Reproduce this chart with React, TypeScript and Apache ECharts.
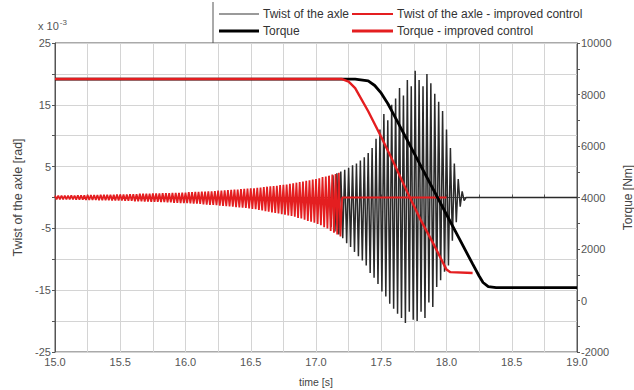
import React, { useEffect, useRef } from 'react';
import * as echarts from 'echarts';

// time axis [s]
const TIME_MIN = 15.0;
const TIME_MAX = 19.0;
// left axis: twist [x 10^-3 rad]
const TWIST_MIN = -25;
const TWIST_MAX = 25;
// right axis: torque [Nm]
const TORQUE_MIN = -2000;
const TORQUE_MAX = 10000;

// Twist of the axle - improved control: oscillation peaks,
// one peak every RED_STEP seconds starting at RED_START (rows of 0.2 s)
const RED_START = 15.0;
const RED_STEP = 0.0125;
const redTwistPeaks = [
  0.3, -0.3, 0.3, -0.3, 0.3, -0.3, 0.3, -0.3, 0.3, -0.3, 0.35, -0.3, 0.3, -0.35, 0.35, -0.35,
  0.35, -0.35, 0.35, -0.4, 0.4, -0.4, 0.4, -0.4, 0.4, -0.4, 0.4, -0.45, 0.45, -0.45, 0.45, -0.45,
  0.45, -0.45, 0.45, -0.5, 0.45, -0.5, 0.5, -0.5, 0.5, -0.5, 0.5, -0.55, 0.5, -0.55, 0.55, -0.55,
  0.55, -0.6, 0.55, -0.6, 0.6, -0.6, 0.6, -0.65, 0.6, -0.65, 0.6, -0.7, 0.65, -0.7, 0.65, -0.7,
  0.65, -0.75, 0.7, -0.75, 0.7, -0.8, 0.7, -0.8, 0.75, -0.85, 0.75, -0.85, 0.75, -0.9, 0.8, -0.9,
  0.8, -0.9, 0.85, -0.95, 0.85, -1.0, 0.9, -1.0, 0.9, -1.05, 0.95, -1.1, 0.95, -1.15, 1.0, -1.2,
  1.0, -1.2, 1.05, -1.25, 1.1, -1.3, 1.1, -1.35, 1.15, -1.4, 1.2, -1.45, 1.25, -1.5, 1.3, -1.55,
  1.3, -1.6, 1.35, -1.65, 1.4, -1.7, 1.45, -1.75, 1.5, -1.85, 1.5, -1.9, 1.55, -2.0, 1.6, -2.1,
  1.7, -2.2, 1.75, -2.3, 1.8, -2.4, 1.85, -2.5, 1.9, -2.6, 2.0, -2.7, 2.05, -2.8, 2.1, -2.9,
  2.2, -3.0, 2.3, -3.1, 2.4, -3.3, 2.5, -3.4, 2.6, -3.6, 2.7, -3.8, 2.8, -3.9, 2.9, -4.1,
  3.0, -4.3, 3.1, -4.5, 3.3, -4.8, 3.4, -5.0, 3.5, -5.4, 3.7, -5.7, 3.8, -6.0, 4.0, -6.3,
];
// after the oscillation the improved twist stays at zero
const redTwistTailT = [17.2, 18.0];
const redTwistTailV = [0, 0];

// Twist of the axle (original control): oscillation peaks
const BLACK_START = 17.1;
const BLACK_STEP = 0.015;
const blackTwistPeaks = [
  3.5, -4.8, 3.6, -5.5, 3.9, -6.0, 4.2, -6.6, 4.5, -7.4,
  4.8, -8.0, 5.2, -8.8, 5.5, -9.5, 6.0, -10.2, 6.5, -11.0,
  7.2, -12.2, 8.0, -13.0, 9.5, -14.0, 11.0, -15.2, 13.5, -16.0,
  12.5, -17.2, 15.0, -18.0, 16.0, -18.8, 17.7, -19.5, 16.5, -20.3,
  19.0, -18.5, 18.0, -19.8, 20.5, -20.0, 19.0, -18.5, 18.0, -19.5,
  20.0, -17.0, 18.5, -17.7, 16.8, -14.5, 15.5, -13.4, 14.0, -12.0,
  11.0, -11.0, 8.0, -7.0, 5.5, -4.0, 3.0, -1.5, 1.0, -0.5,
];
const blackTwistTailT = [18.15, 19.0];
const blackTwistTailV = [0, 0];

// Torque (original control)
const torqueT = [15.0, 17.3, 17.4, 17.45, 17.5, 17.55, 17.6, 17.7, 17.8, 17.9, 18.0, 18.1, 18.2, 18.25, 18.28, 18.32, 18.38, 19.0];
const torqueV = [8600, 8600, 8530, 8350, 8050, 7650, 7180, 6220, 5260, 4300, 3340, 2380, 1420, 950, 700, 540, 500, 500];

// Torque - improved control
const torqueImpT = [15.0, 17.2, 17.25, 17.3, 17.4, 17.5, 17.6, 17.7, 17.8, 17.9, 17.95, 18.0, 18.03, 18.2];
const torqueImpV = [8600, 8600, 8500, 8250, 7350, 6350, 5300, 4200, 3150, 2200, 1700, 1200, 1100, 1070];

const legendLabels = [
  'Twist of the axle',
  'Twist of the axle - improved control',
  'Torque',
  'Torque - improved control',
];

const FONT = 'Liberation Sans, Arial, sans-serif';

function sampled(start: number, step: number, values: number[]) {
  return values.map((v, i) => [start + i * step, v]);
}
function zipped(t: number[], v: number[]) {
  return t.map((x, i) => [x, v[i]]);
}

export default function App() {
  const ref = useRef<HTMLDivElement>(null);
  useEffect(() => {
    if (!ref.current) return;
    const chart = echarts.init(ref.current, undefined, { renderer: 'svg' });
    const RED = '#e41e20';
    const legendText = { fill: '#333', fontSize: 12, fontFamily: FONT };
    const option: any = {
      animation: false,
      backgroundColor: '#fff',
      textStyle: { fontFamily: FONT },
      grid: {
        left: 55, right: 57, top: 43, bottom: 38,
        containLabel: false, outerBoundsMode: 'none',
        show: true, borderColor: '#555', borderWidth: 1,
      },
      xAxis: {
        type: 'value',
        min: TIME_MIN,
        max: TIME_MAX,
        interval: 0.25,
        name: 'time [s]',
        nameLocation: 'middle',
        nameGap: 24,
        nameTextStyle: { color: '#444', fontSize: 10.5, fontFamily: FONT },
        axisLine: { lineStyle: { color: '#555' } },
        axisTick: { length: 3, inside: true, lineStyle: { color: '#555' } },
        axisLabel: {
          color: '#555', fontSize: 11, margin: 4,
          formatter: (v: number) => (Math.abs(v * 2 - Math.round(v * 2)) < 1e-6 ? v.toFixed(1) : ''),
        },
        splitLine: { show: true, lineStyle: { color: '#d4d4d4', width: 1 } },
      },
      yAxis: [
        {
          type: 'value',
          min: TWIST_MIN,
          max: TWIST_MAX,
          interval: 5,
          name: 'Twist of the axle [rad]',
          nameLocation: 'middle',
          nameGap: 29,
          nameRotate: 90,
          nameTextStyle: { color: '#444', fontSize: 12.5, fontFamily: FONT },
          axisLine: { show: true, lineStyle: { color: '#555' } },
          axisTick: { show: true, length: 3, lineStyle: { color: '#555' } },
          axisLabel: {
            color: '#555', fontSize: 11, margin: 4,
            formatter: (v: number) => (Math.round(v + 25) % 10 === 0 ? String(v) : ''),
          },
          splitLine: { show: true, lineStyle: { color: '#d4d4d4', width: 1 } },
        },
        {
          type: 'value',
          min: TORQUE_MIN,
          max: TORQUE_MAX,
          interval: 2000,
          position: 'right',
          name: 'Torque [Nm]',
          nameLocation: 'middle',
          nameGap: 35,
          nameRotate: 90,
          nameTextStyle: { color: '#444', fontSize: 12, fontFamily: FONT },
          axisLine: { show: true, lineStyle: { color: '#555' } },
          axisTick: { show: true, length: 3, lineStyle: { color: '#555' } },
          minorTick: { show: true, splitNumber: 2, length: 3, lineStyle: { color: '#555' } },
          axisLabel: { color: '#555', fontSize: 11, margin: 4, formatter: (v: number) => String(v) },
          splitLine: { show: false },
        },
      ],
      series: [
        {
          name: legendLabels[0],
          type: 'line',
          yAxisIndex: 0,
          symbol: 'none',
          lineStyle: { color: '#2a2a2a', width: 1.5 },
          data: [...sampled(BLACK_START, BLACK_STEP, blackTwistPeaks), ...zipped(blackTwistTailT, blackTwistTailV)],
        },
        {
          name: legendLabels[1],
          type: 'line',
          yAxisIndex: 0,
          symbol: 'none',
          lineStyle: { color: RED, width: 1.8 },
          data: [...sampled(RED_START, RED_STEP, redTwistPeaks), ...zipped(redTwistTailT, redTwistTailV)],
        },
        {
          name: legendLabels[2],
          type: 'line',
          yAxisIndex: 1,
          symbol: 'none',
          lineStyle: { color: '#000', width: 2.8 },
          data: zipped(torqueT, torqueV),
        },
        {
          name: legendLabels[3],
          type: 'line',
          yAxisIndex: 1,
          symbol: 'none',
          lineStyle: { color: RED, width: 2.4 },
          data: zipped(torqueImpT, torqueImpV),
        },
      ],
      graphic: [
        { type: 'line', shape: { x1: 213, y1: 2, x2: 213, y2: 43 }, style: { stroke: '#555', lineWidth: 1 } },
        { type: 'line', shape: { x1: 219, y1: 14, x2: 259, y2: 14 }, style: { stroke: '#9a9a9a', lineWidth: 2 } },
        { type: 'text', x: 263, y: 14, style: { ...legendText, text: legendLabels[0], verticalAlign: 'middle' } },
        { type: 'line', shape: { x1: 352, y1: 14, x2: 393, y2: 14 }, style: { stroke: RED, lineWidth: 2 } },
        { type: 'text', x: 397, y: 14, style: { ...legendText, text: legendLabels[1], verticalAlign: 'middle' } },
        { type: 'line', shape: { x1: 219, y1: 31, x2: 259, y2: 31 }, style: { stroke: '#000', lineWidth: 3 } },
        { type: 'text', x: 263, y: 31, style: { ...legendText, text: legendLabels[2], verticalAlign: 'middle' } },
        { type: 'line', shape: { x1: 352, y1: 31, x2: 393, y2: 31 }, style: { stroke: RED, lineWidth: 3 } },
        { type: 'text', x: 397, y: 31, style: { ...legendText, text: legendLabels[3], verticalAlign: 'middle' } },
        {
          type: 'text', x: 38, y: 26,
          style: {
            text: '{a|x 10}{b|-3}',
            verticalAlign: 'middle',
            rich: {
              a: { fontSize: 11, fill: '#555', fontFamily: FONT },
              b: { fontSize: 8, fill: '#555', fontFamily: FONT, padding: [0, 0, 7, 1] },
            },
          },
        },
      ],
    };
    chart.setOption(option);
    return () => chart.dispose();
  }, []);
  return <div ref={ref} style={{ position: 'fixed', left: 0, top: 0, width: 634, height: 390 }} />;
}
